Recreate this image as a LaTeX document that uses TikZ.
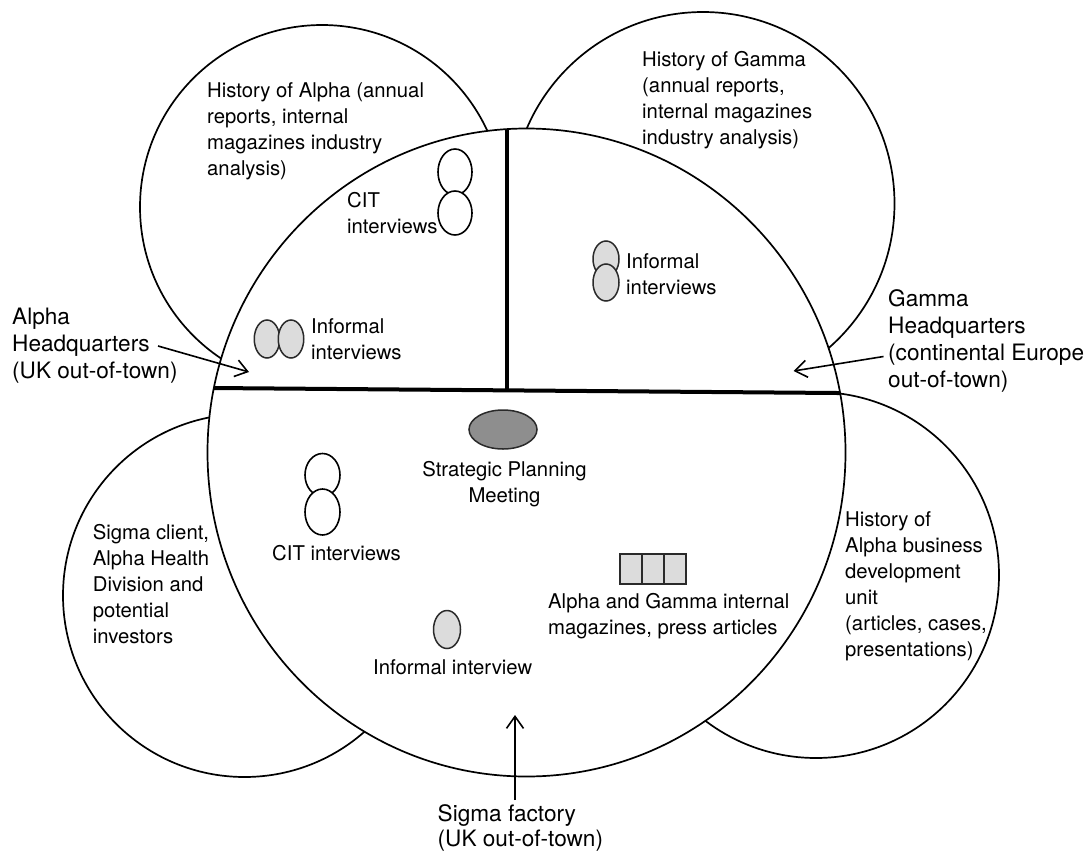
\documentclass[tikz,border=0pt]{standalone}
\usepackage{fontspec}
\setmainfont{TeX Gyre Heros}
\usetikzlibrary{arrows.meta,shapes.geometric}

\definecolor{markgrey}{HTML}{DCDCDC}
\definecolor{meetgrey}{HTML}{8E8E8E}
\definecolor{inkdark}{HTML}{2A2A2A}

\newcommand\innerfont{\fontsize{20.3}{26}\selectfont}
\newcommand\outerfont{\fontsize{22.6}{27}\selectfont}
\newcommand\factoryfont{\fontsize{22.6}{25}\selectfont}

\begin{document}
\begin{tikzpicture}[x=1pt,y=-1pt,
  ring/.style={circle, draw=black, line width=1.7pt, fill=white, inner sep=0pt},
  divider/.style={line width=4pt, line cap=butt},
  pointer/.style={line width=1.6pt, -{Straight Barb[length=12pt,width=17pt,line width=1.6pt]}},
  blank/.style={ellipse, draw=black, line width=1.6pt, fill=white, inner sep=0pt},
  greymark/.style={ellipse, draw=inkdark, line width=1.5pt, fill=markgrey, inner sep=0pt},
  meet/.style={ellipse, draw=inkdark, line width=1.5pt, fill=meetgrey, inner sep=0pt},
  doc/.style={rectangle, draw=inkdark, line width=2pt, fill=markgrey, inner sep=0pt,
              minimum width=22pt, minimum height=30pt},
  inlabel/.style={font=\innerfont, anchor=north west, inner sep=0pt, align=left, yshift=18.2pt},
  outlabel/.style={font=\outerfont, anchor=north west, inner sep=0pt, align=left, yshift=18.9pt}
]
\useasboundingbox (0,0) rectangle (1089,854);
\fill[white] (0,0) rectangle (1089,854);

% outer circles (document sources around the sites)
\node[ring, minimum size=364pt] (histalpha)   at (322,207) {};
\node[ring, minimum size=383pt] (histgamma)   at (703,203.5) {};
\node[ring, minimum size=363pt] (sigmaclient) at (244.5,595.5) {};
\node[ring, minimum size=366pt] (bizdev)      at (816,575) {};

% the sites circle, split into three parts
\node[ellipse, draw=black, line width=1.7pt, fill=white, inner sep=0pt,
      minimum width=638pt, minimum height=648pt] (site) at (526.5,452.5) {};
\coordinate (hleft)  at (200,387.9);
\coordinate (hright) at (850,393.1);
\coordinate (vtop)   at (506.5,110);
\coordinate (vfoot)  at (506.5,390.3);
\begin{scope}
  \clip (526.5,452.5) ellipse [x radius=319, y radius=324];
  \draw[divider] (hleft) -- (hright);
  \draw[divider] (vtop) -- (vfoot);
\end{scope}

% Alpha headquarters
\node[blank, minimum width=34pt, minimum height=46pt] (citA1) at (455,172) {};
\node[blank, minimum width=34pt, minimum height=44pt] (citA2) at (455,213) {};
\node[greymark, minimum width=25.5pt, minimum height=38pt] (infA1) at (267,339) {};
\node[greymark, minimum width=25.5pt, minimum height=38pt] (infA2) at (291,339) {};

% Gamma headquarters
\node[greymark, minimum width=26pt, minimum height=36pt] (infG1) at (606,259) {};
\node[greymark, minimum width=26pt, minimum height=37pt] (infG2) at (606,282.5) {};

% Sigma factory
\node[meet, minimum width=68pt, minimum height=39pt] (meeting) at (503,429.5) {};
\node[blank, minimum width=35pt, minimum height=43pt] (citB1) at (322.5,475) {};
\node[blank, minimum width=35pt, minimum height=46pt] (citB2) at (322.5,512) {};
\node[greymark, minimum width=27pt, minimum height=38pt] (infB) at (447,629.5) {};
\node[doc] (docA) at (631,569) {};
\node[doc] (docB) at (653,569) {};
\node[doc] (docC) at (675,569) {};

% labels inside the circles
\node[inlabel] (histalphatext) at (207,97.3)
  {\strut History of Alpha (annual\\reports, internal\\magazines industry\\analysis)};
\node[inlabel] (citAtext) at (347,207) {\strut CIT\\interviews};
\node[inlabel] (infAtext) at (311,333.5) {\strut Informal\\interviews};
\node[inlabel] (histgammatext) at (642,66.7)
  {\strut History of Gamma\\(annual reports,\\internal magazines\\industry analysis)};
\node[inlabel] (infGtext) at (626,268.3) {\strut Informal\\interviews};
\node[inlabel] (sigmaclienttext) at (92.7,539.3)
  {\strut Sigma client,\\Alpha Health\\Division and\\potential\\investors};
\node[inlabel] (bizdevtext) at (845,526.7)
  {\strut History of\\Alpha business\\development\\unit\\(articles, cases,\\presentations)};
\node[inlabel, anchor=north, align=center] (meetingtext) at (504.5,476)
  {\strut Strategic Planning\\Meeting};
\node[inlabel] (citBtext) at (272,560) {\strut CIT interviews};
\node[inlabel] (infBtext) at (373,674) {\strut Informal interview};
\node[inlabel] (presstext) at (548,608.3)
  {\strut Alpha and Gamma internal\\magazines, press articles};

% site names and their pointers
\node[outlabel] (alphahq) at (12,324.3) {\strut Alpha\\Headquarters\\(UK out-of-town)};
\node[outlabel] (gammahq) at (888,306)
  {\strut Gamma\\Headquarters\\(continental Europe\\out-of-town)};
\node[outlabel, font=\factoryfont, yshift=-1.4pt] (sigmafactory) at (437.5,821.7)
  {\strut Sigma factory\\(UK out-of-town)};

\coordinate (ahqtail) at (158,346);
\coordinate (ahqtip)  at (249,372);
\coordinate (ghqtail) at (883.5,356.5);
\coordinate (ghqtip)  at (793.5,371);
\coordinate (sftail)  at (515,800);
\coordinate (sftip)   at (515,715);
\draw[pointer] (ahqtail) -- (ahqtip);
\draw[pointer] (ghqtail) -- (ghqtip);
\draw[pointer] (sftail) -- (sftip);
\end{tikzpicture}
\end{document}
